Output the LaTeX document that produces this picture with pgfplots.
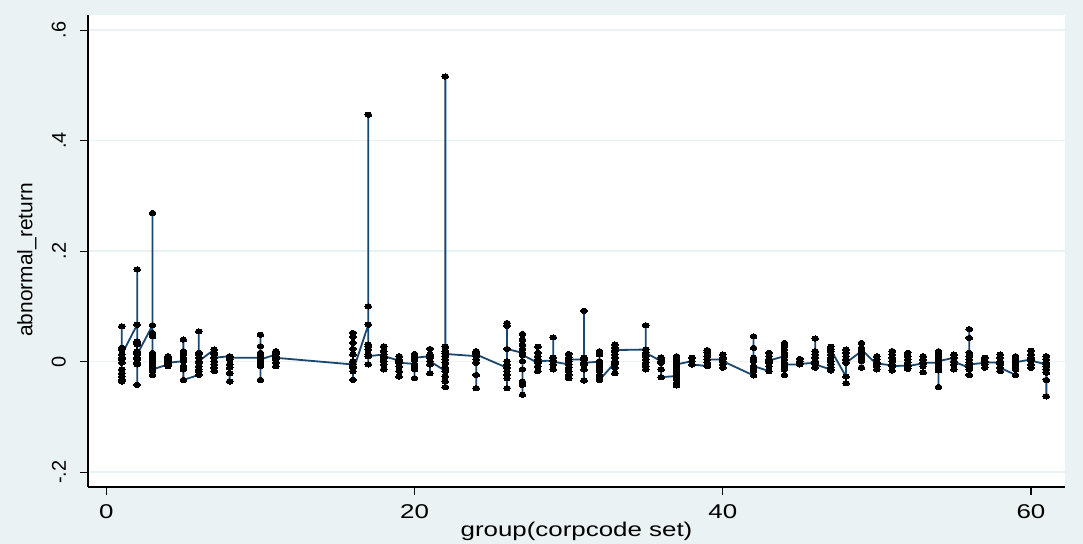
\documentclass[border=0pt]{standalone}
\usepackage{fontspec}
\setmainfont{Liberation Sans}
\newfontfamily\widefont[FakeStretch=1.3]{Liberation Sans}
\usepackage{pgfplots}
\pgfplotsset{compat=1.18}
\definecolor{bgc}{RGB}{234,242,243}
\definecolor{stnavy}{RGB}{26,71,111}
\definecolor{gridc}{RGB}{234,242,243}
\begin{document}
\begin{tikzpicture}[x=1bp,y=1bp]
\fill[bgc] (0,0) rectangle (1083,544);
\useasboundingbox (0,0) rectangle (1083,544);
\begin{axis}[
  at={(88bp,57bp)}, anchor=south west,
  scale only axis, width=977bp, height=472bp,
  xmin=-1.19, xmax=62.21, ymin=-0.2268, ymax=0.6275,
  axis background/.style={fill=white},
  axis x line*=bottom, axis y line*=left,
  axis line style={line width=1.2bp, black, -},
  xtick={0,20,40,60}, xticklabels={0,20,40,60},
  ytick={-0.2,0,0.2,0.4,0.6}, yticklabels={-.2,0,.2,.4,.6},
  tick align=outside, major tick length=8bp,
  tick style={line width=1.2bp, black},
  ymajorgrids, grid style={line width=1.5bp, gridc},
  xticklabel shift=9bp, yticklabel shift=14bp,
  xticklabel style={font=\widefont\fontsize{20}{24}\selectfont, inner sep=0pt, anchor=north},
  yticklabel style={font=\fontsize{20}{24}\selectfont, rotate=90, anchor=south, inner sep=0pt},
  xlabel={\widefont\fontsize{20}{24}\selectfont group(corpcode set)},
  xlabel style={at={(axis description cs:0.5,-0.0932)}, anchor=center, inner sep=0pt},
  ylabel={\fontsize{21}{25}\selectfont abnormal\_return},
  ylabel style={at={(axis description cs:-0.0625,0.481)}, anchor=center, inner sep=0pt, rotate=0},
  clip=false,
]
\addplot[stnavy, line width=1.8bp, mark=*, mark size=2.6bp,
  mark options={fill=black, draw=black, line width=0pt, xscale=1.3}] coordinates {
(1,0.064)(1,0.025)(1,0.022)(1,0.007)(1,0.004)(1,-0.002)(1,-0.014)(1,-0.021)(1,-0.027)(1,-0.033)(1,-0.036)(1,0.013)
(2,0.067)(2,0.167)(2,0.037)(2,0.034)(2,0.031)(2,0.019)(2,0.016)(2,0.007)(2,0.004)(2,-0.002)(2,-0.005)(2,-0.042)(2,0.013)
(3,0.066)(3,0.269)(3,0.052)(3,0.046)(3,0.016)(3,0.010)(3,0.004)(3,0.001)(3,-0.005)(3,-0.008)(3,-0.017)(3,-0.024)(3,-0.014)
(4,-0.005)(4,0.010)(4,0.007)(4,0.004)(4,0.001)(4,-0.008)(4,-0.002)
(5,0.001)(5,0.040)(5,0.019)(5,0.016)(5,0.013)(5,0.007)(5,0.004)(5,-0.008)(5,-0.011)(5,-0.014)(5,-0.033)
(6,-0.024)(6,0.055)(6,0.016)(6,0.013)(6,0.007)(6,-0.002)(6,-0.008)(6,-0.014)(6,-0.017)(6,0.001)
(7,0.022)(7,0.016)(7,0.013)(7,0.001)(7,-0.005)(7,-0.011)(7,-0.017)(7,0.007)
(8,0.010)(8,0.004)(8,-0.005)(8,-0.011)(8,-0.021)(8,-0.036)(8,0.007)
(10,0.007)(10,0.049)(10,0.028)(10,0.016)(10,0.010)(10,-0.002)(10,-0.008)(10,-0.033)(10,0.004)
(11,0.013)(11,0.019)(11,0.016)(11,0.010)(11,0.004)(11,-0.002)(11,-0.008)(11,0.007)
(16,-0.005)(16,0.052)(16,0.045)(16,0.034)(16,0.023)(16,0.013)(16,0.001)(16,-0.008)(16,-0.011)(16,-0.033)(16,-0.017)
(17,0.067)(17,0.447)(17,0.100)(17,0.031)(17,0.028)(17,0.022)(17,0.013)(17,-0.005)(17,0.010)
(18,0.013)(18,0.028)(18,0.019)(18,0.007)(18,0.001)(18,-0.005)(18,-0.014)(18,0.010)
(19,0.002)(19,0.010)(19,0.004)(19,-0.008)(19,-0.017)(19,-0.027)(19,-0.002)
(20,-0.004)(20,0.014)(20,0.008)(20,0.004)(20,-0.008)(20,-0.014)(20,-0.030)(20,0.007)
(21,0.010)(21,0.023)(21,0.013)(21,0.007)(21,-0.005)(21,-0.021)(21,0.001)
(22,-0.017)(22,0.516)(22,0.027)(22,0.019)(22,0.010)(22,0.004)(22,-0.002)(22,-0.011)(22,-0.027)(22,-0.036)(22,-0.046)(22,0.014)
(24,0.010)(24,0.019)(24,0.016)(24,0.004)(24,-0.002)(24,-0.024)(24,-0.048)(24,0.013)
(26,-0.011)(26,0.070)(26,0.065)(26,0.001)(26,-0.005)(26,-0.017)(26,-0.024)(26,-0.030)(26,-0.048)(26,0.023)
(27,0.016)(27,0.050)(27,0.040)(27,0.031)(27,0.023)(27,0.001)(27,-0.014)(27,-0.036)(27,-0.042)(27,-0.060)(27,0.012)
(28,-0.002)(28,0.027)(28,0.016)(28,0.010)(28,0.004)(28,-0.008)(28,-0.017)(28,0.001)
(29,0.002)(29,0.044)(29,0.007)(29,-0.005)(29,-0.014)(29,0.000)
(30,-0.005)(30,0.014)(30,0.007)(30,0.001)(30,-0.011)(30,-0.017)(30,-0.024)(30,-0.030)(30,0.004)
(31,0.004)(31,0.092)(31,0.007)(31,-0.005)(31,-0.014)(31,-0.034)(31,-0.002)
(32,0.000)(32,0.019)(32,0.013)(32,0.001)(32,-0.005)(32,-0.011)(32,-0.017)(32,-0.024)(32,-0.030)(32,-0.033)
(33,-0.002)(33,0.031)(33,0.025)(33,0.019)(33,0.013)(33,0.007)(33,0.001)(33,-0.005)(33,-0.011)(33,-0.021)(33,0.021)
(35,0.022)(35,0.066)(35,0.010)(35,0.004)(35,-0.002)(35,-0.008)(35,-0.014)(35,0.016)
(36,0.001)(36,0.008)(36,0.004)(36,-0.002)(36,-0.014)(36,-0.028)
(37,-0.026)(37,0.010)(37,0.004)(37,-0.002)(37,-0.008)(37,-0.014)(37,-0.020)(37,-0.032)(37,-0.038)(37,-0.043)(37,-0.005)
(38,0.001)(38,0.007)(38,-0.005)
(39,-0.008)(39,0.021)(39,0.016)(39,0.010)(39,-0.002)(39,0.004)
(40,0.004)(40,0.013)(40,0.007)(40,-0.005)(40,-0.011)(40,0.001)
(42,-0.025)(42,0.046)(42,0.025)(42,0.007)(42,0.001)(42,-0.011)(42,-0.017)(42,-0.008)
(43,-0.017)(43,0.016)(43,0.010)(43,0.004)(43,-0.002)(43,-0.008)(43,0.002)
(44,0.010)(44,0.034)(44,0.028)(44,0.022)(44,0.016)(44,0.004)(44,-0.002)(44,-0.008)(44,-0.014)(44,-0.024)(44,-0.005)
(45,-0.005)(45,0.005)(45,0.001)(45,-0.004)
(46,-0.002)(46,0.042)(46,0.019)(46,0.013)(46,0.007)(46,0.001)(46,-0.011)(46,-0.005)
(47,-0.014)(47,0.027)(47,0.019)(47,0.013)(47,0.007)(47,0.001)(47,-0.005)(47,-0.011)(47,-0.016)(47,0.022)
(48,-0.027)(48,0.022)(48,0.016)(48,0.010)(48,0.004)(48,-0.039)(48,-0.002)
(49,0.019)(49,0.034)(49,0.025)(49,0.013)(49,0.007)(49,0.001)(49,-0.011)(49,0.022)
(50,-0.005)(50,0.010)(50,0.004)(50,-0.002)(50,-0.008)(50,-0.014)(50,-0.003)
(51,-0.007)(51,0.019)(51,0.013)(51,0.007)(51,0.001)(51,-0.005)(51,-0.016)(51,-0.008)
(52,-0.007)(52,0.016)(52,0.010)(52,0.004)(52,-0.002)(52,-0.013)(52,-0.008)
(53,-0.003)(53,0.010)(53,0.004)(53,-0.008)(53,-0.019)(53,-0.002)
(54,-0.002)(54,0.019)(54,0.013)(54,0.007)(54,0.001)(54,-0.005)(54,-0.011)(54,-0.016)(54,-0.046)(54,0.001)
(55,0.007)(55,0.013)(55,0.001)(55,-0.005)(55,-0.014)(55,0.000)
(56,-0.011)(56,0.059)(56,0.043)(56,0.016)(56,0.010)(56,0.004)(56,-0.002)(56,-0.008)(56,-0.014)(56,-0.024)(56,-0.005)
(57,-0.002)(57,0.007)(57,0.001)(57,-0.005)(57,-0.011)(57,-0.001)
(58,-0.002)(58,0.013)(58,0.007)(58,0.001)(58,-0.005)(58,-0.017)(58,-0.011)
(59,-0.024)(59,0.010)(59,0.004)(59,-0.002)(59,-0.008)(59,-0.014)(59,-0.001)
(60,0.004)(60,0.020)(60,0.013)(60,0.007)(60,0.001)(60,-0.005)(60,-0.011)(60,0.002)
(61,-0.005)(61,0.010)(61,0.004)(61,-0.002)(61,-0.008)(61,-0.014)(61,-0.020)(61,-0.033)(61,-0.063)
};
\end{axis}
\end{tikzpicture}
\end{document}
